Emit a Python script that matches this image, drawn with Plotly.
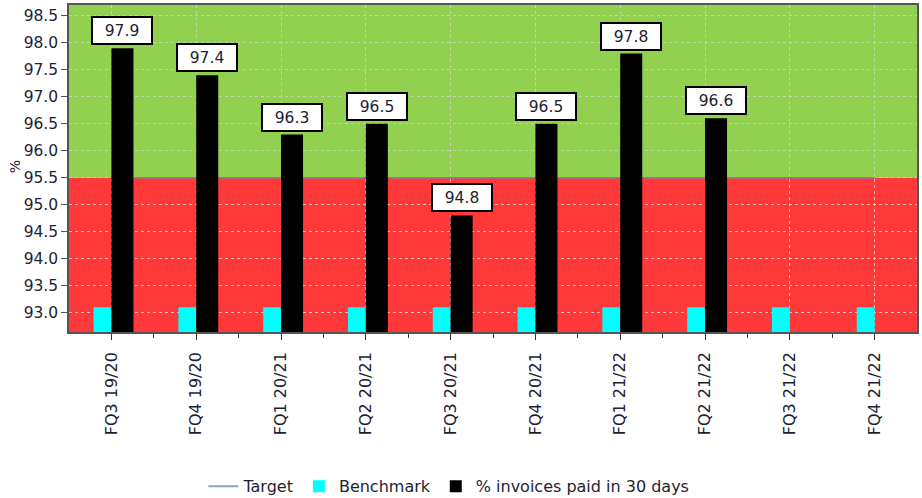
import plotly.graph_objects as go

categories = ["FQ3 19/20", "FQ4 19/20", "FQ1 20/21", "FQ2 20/21", "FQ3 20/21",
              "FQ4 20/21", "FQ1 21/22", "FQ2 21/22", "FQ3 21/22", "FQ4 21/22"]
benchmark = [93.1] * 10
invoices_paid = [97.9, 97.4, 96.3, 96.5, 94.8, 96.5, 97.8, 96.6, None, None]
target = [95.5] * 10

y_min, y_max = 92.64, 98.70
FONT = "DejaVu Sans"
TXT = "#1e1e32"

x_idx = list(range(len(categories)))

fig = go.Figure()
# legend entry for the target (line itself drawn beneath the bars as a shape)
fig.add_trace(go.Scatter(x=[None], y=[None], mode="lines", name="Target",
                         line=dict(color="#8DA2C4", width=2), legendrank=1))
fig.add_trace(go.Bar(x=x_idx, y=benchmark, name="Benchmark", marker_color="#00FFFF",
                     marker_line_width=0, width=0.21, offset=-0.21, legendrank=2))
fig.add_trace(go.Bar(x=x_idx, y=invoices_paid, name="% invoices paid in 30 days",
                     marker_color="#000000", marker_line_width=0, width=0.26, offset=0,
                     legendrank=3))

# coloured zones split at the target
fig.add_shape(type="rect", xref="paper", yref="y", x0=0, x1=1, y0=target[0], y1=y_max,
              fillcolor="#92D050", line_width=0, layer="below")
fig.add_shape(type="rect", xref="paper", yref="y", x0=0, x1=1, y0=y_min, y1=target[0],
              fillcolor="#FF3939", line_width=0, layer="below")
fig.add_shape(type="line", xref="x", yref="y", x0=x_idx[0], x1=x_idx[-1],
              y0=target[0], y1=target[-1], line=dict(color="#6F86B4", width=1.5),
              layer="between")

for i, v in enumerate(invoices_paid):
    if v is None:
        continue
    fig.add_annotation(x=i + 0.13, y=v, text=f"{v:.1f}", showarrow=False,
                       yanchor="bottom", yshift=3, bgcolor="white",
                       bordercolor="black", borderwidth=2, borderpad=1,
                       width=56, height=23, font=dict(family=FONT, size=15.5, color=TXT))

fig.add_annotation(xref="paper", yref="paper", x=-0.064, y=0.506, xanchor="center",
                   yanchor="middle", text="%", textangle=-90, showarrow=False,
                   font=dict(family=FONT, size=14, color=TXT))

grid = "rgba(205,205,205,0.95)"
fig.update_xaxes(range=[-0.5, 9.5], tickmode="array", tickvals=x_idx, ticktext=categories,
                 tickangle=-90, ticks="outside", ticklen=6, tickcolor="#333",
                 ticklabelstandoff=6,
                 showgrid=True, gridcolor=grid, griddash="dot", gridwidth=1,
                 showline=True, linecolor="#555", linewidth=1.5, mirror=True,
                 zeroline=False, automargin=False,
                 minor=dict(tickmode="array", tickvals=[i + 0.5 for i in x_idx[:-1]],
                            ticks="outside", ticklen=4, tickcolor="#333", showgrid=False),
                 tickfont=dict(family=FONT, size=16, color=TXT))
fig.update_yaxes(range=[y_min, y_max], dtick=0.5, tick0=93.0, tickformat=".1f",
                 ticks="outside", ticklen=6, tickcolor="#555",
                 showgrid=True, gridcolor=grid, griddash="dot", gridwidth=1,
                 showline=True, linecolor="#555", linewidth=1.5, mirror=True,
                 zeroline=False, automargin=False,
                 tickfont=dict(family=FONT, size=15.5, color=TXT))

fig.update_layout(width=922, height=498, margin=dict(l=69, r=5, t=5, b=166, autoexpand=False),
                  paper_bgcolor="white", plot_bgcolor="rgba(0,0,0,0)",
                  barmode="overlay", showlegend=True,
                  legend=dict(orientation="h", x=0.448, xanchor="center", y=-0.472,
                              yanchor="middle", font=dict(family=FONT, size=16, color=TXT),
                              itemwidth=30, bgcolor="rgba(0,0,0,0)"),
                  font=dict(family=FONT, color=TXT))

fig.write_html("out.html", config={"displayModeBar": False},
               post_script="document.body.style.margin='0';document.body.style.overflow='hidden';")
